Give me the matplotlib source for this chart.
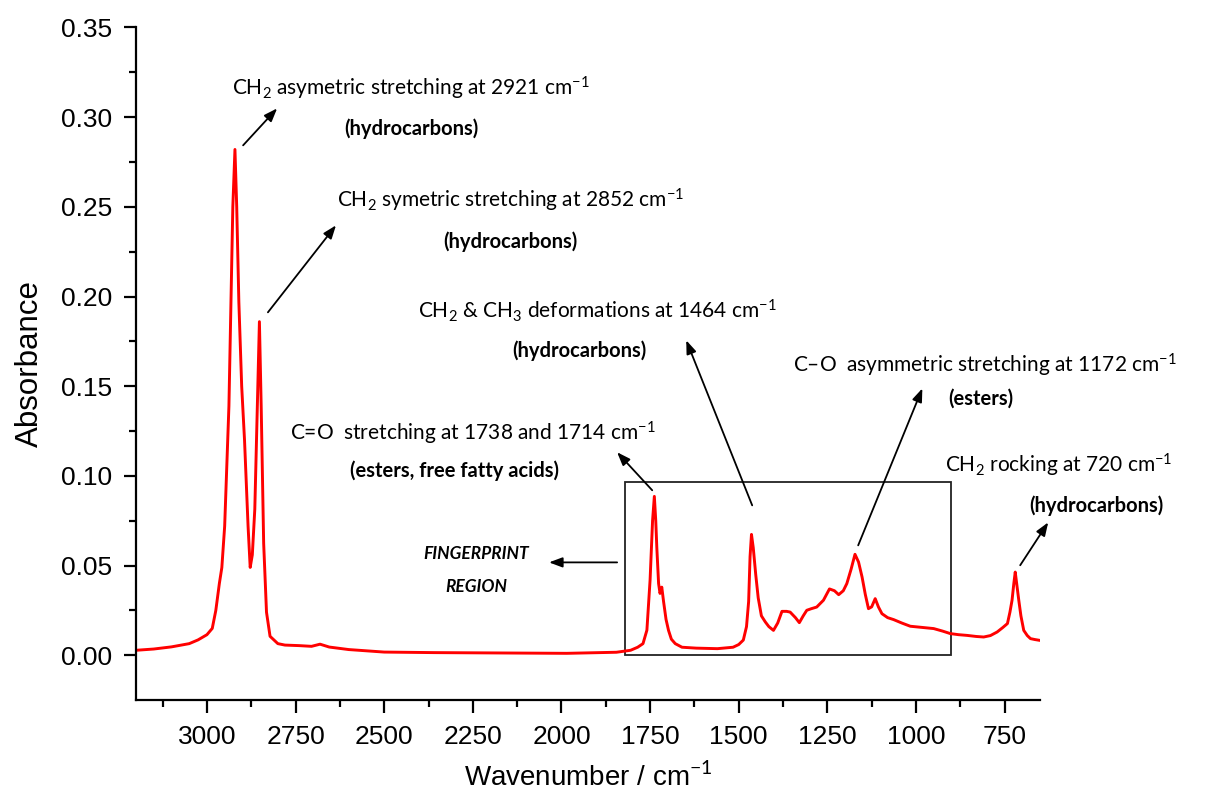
import matplotlib
matplotlib.use("Agg")
import matplotlib.pyplot as plt
from matplotlib import font_manager
from matplotlib.patches import Rectangle
from matplotlib.ticker import MultipleLocator

# spectrum (wavenumber in cm-1, absorbance)
wavenumber = [3200, 3150, 3100, 3050, 3025, 3000, 2985, 2975, 2965, 2958,
              2950, 2945, 2938, 2932, 2927, 2921, 2916, 2910, 2902, 2894,
              2884, 2878, 2872, 2865, 2858, 2852, 2847, 2840, 2832, 2822,
              2800, 2780, 2740, 2705, 2681, 2655, 2600, 2500, 2360, 2170,
              1985, 1845, 1805, 1785, 1770, 1759, 1750, 1743, 1738, 1734,
              1731, 1726, 1722, 1717, 1712, 1705, 1698, 1690, 1679, 1660,
              1620, 1560, 1516, 1500, 1487, 1478, 1472, 1468, 1464, 1459,
              1452, 1445, 1436, 1425, 1415, 1402, 1390, 1378, 1365, 1355,
              1340, 1329, 1318, 1308, 1295, 1280, 1261, 1244, 1230, 1218,
              1205, 1195, 1183, 1172, 1162, 1152, 1143, 1134, 1125, 1115,
              1106, 1096, 1080, 1063, 1040, 1016, 980, 950, 925, 903,
              880, 856, 830, 809, 790, 771, 755, 742, 735, 729,
              724, 720, 716, 710, 704, 696, 686, 677, 665, 653]
absorbance = [0.0028, 0.0035, 0.0047, 0.0065, 0.0086, 0.0115, 0.0150, 0.0250, 0.0400, 0.0489,
              0.0720, 0.1000, 0.1390, 0.2000, 0.2500, 0.2820, 0.2500, 0.1970, 0.1500, 0.1200,
              0.0720, 0.0490, 0.0560, 0.0815, 0.1390, 0.1860, 0.1390, 0.0624, 0.0240, 0.0106,
              0.0065, 0.0057, 0.0054, 0.0050, 0.0062, 0.0046, 0.0032, 0.0018, 0.0015, 0.0013,
              0.0011, 0.0017, 0.0028, 0.0045, 0.0065, 0.0140, 0.0420, 0.0750, 0.0886, 0.0750,
              0.0600, 0.0400, 0.0345, 0.0380, 0.0300, 0.0200, 0.0139, 0.0090, 0.0065, 0.0045,
              0.0040, 0.0037, 0.0045, 0.0060, 0.0085, 0.0160, 0.0300, 0.0550, 0.0674, 0.0600,
              0.0450, 0.0320, 0.0220, 0.0186, 0.0160, 0.0139, 0.0180, 0.0245, 0.0245, 0.0241,
              0.0210, 0.0182, 0.0220, 0.0251, 0.0260, 0.0269, 0.0307, 0.0370, 0.0360, 0.0338,
              0.0360, 0.0400, 0.0480, 0.0563, 0.0520, 0.0436, 0.0340, 0.0260, 0.0270, 0.0316,
              0.0270, 0.0232, 0.0210, 0.0199, 0.0180, 0.0162, 0.0155, 0.0149, 0.0135, 0.0121,
              0.0115, 0.0111, 0.0105, 0.0102, 0.0110, 0.0130, 0.0155, 0.0177, 0.0240, 0.0307,
              0.0400, 0.0464, 0.0400, 0.0307, 0.0220, 0.0139, 0.0110, 0.0093, 0.0088, 0.0084]

x_ticks = [3000, 2750, 2500, 2250, 2000, 1750, 1500, 1250, 1000, 750]
y_ticks = [0.00, 0.05, 0.10, 0.15, 0.20, 0.25, 0.30, 0.35]

# fingerprint box (cm-1 from, cm-1 to, absorbance top)
box_x = [1821, 900]
box_top = 0.0966

installed = {f.name for f in font_manager.fontManager.ttflist}
narrow = "Liberation Sans Narrow" if "Liberation Sans Narrow" in installed else "Liberation Sans"

plt.rcParams["font.family"] = ["Lato", "DejaVu Sans"]
plt.rcParams["mathtext.fontset"] = "custom"
plt.rcParams["mathtext.rm"] = "Lato"
plt.rcParams["mathtext.it"] = "Lato:italic"
plt.rcParams["mathtext.bf"] = "Lato:bold"

fig = plt.figure(figsize=(12.19, 7.92), dpi=100)
ax = fig.add_axes([0.1116, 0.1162, 0.7416, 0.8491])

ax.plot(wavenumber, absorbance, color="#ff0000", lw=2.1)

ax.set_xlim(3200, 650)
ax.set_ylim(-0.0249, 0.35)
ax.set_xticks(x_ticks)
ax.set_yticks(y_ticks)
ax.xaxis.set_minor_locator(MultipleLocator(125))
ax.yaxis.set_minor_locator(MultipleLocator(0.025))
ax.set_yticklabels([f"{v:.2f}" for v in y_ticks], fontfamily="Liberation Sans", fontsize=19)
ax.set_xticklabels([str(v) for v in x_ticks], fontfamily=narrow, fontsize=19)

for s in ["top", "right"]:
    ax.spines[s].set_visible(False)
for s in ["left", "bottom"]:
    ax.spines[s].set_linewidth(1.6)
ax.tick_params(which="major", direction="out", length=9, width=1.6)
ax.tick_params(axis="y", which="major", pad=8)
ax.tick_params(axis="x", which="major", pad=9)
ax.tick_params(which="minor", direction="out", length=5, width=1.6)

ax.set_ylabel("Absorbance", fontfamily="Liberation Sans", fontsize=22.5, labelpad=12)
ax.set_xlabel("Wavenumber / cm$^{-1}$", fontfamily=narrow, fontsize=20, labelpad=10)

ax.add_patch(Rectangle((box_x[0], 0), box_x[1] - box_x[0], box_top,
                       fill=False, edgecolor="#222222", lw=1.3))

arrow = dict(arrowstyle="-|>,head_length=0.8,head_width=0.3", color="black", lw=1.3,
             shrinkA=0, shrinkB=0)

ax.annotate("", xy=(2802, 0.3049), xytext=(2898, 0.2843), arrowprops=arrow)
ax.annotate("", xy=(2636, 0.2397), xytext=(2828, 0.1912), arrowprops=arrow)
ax.annotate("", xy=(1648, 0.1756), xytext=(1462, 0.0836), arrowprops=arrow)
ax.annotate("", xy=(982, 0.1488), xytext=(1163, 0.0613), arrowprops=arrow)
ax.annotate("", xy=(1843, 0.1132), xytext=(1744, 0.0920), arrowprops=arrow)
ax.annotate("", xy=(627, 0.0741), xytext=(706, 0.0502), arrowprops=arrow, annotation_clip=False)
ax.annotate("", xy=(2035, 0.0518), xytext=(1843, 0.0518), arrowprops=arrow)

fs = 15
fb = 14.5
ax.text(2930, 0.3161, r"CH$_2$ asymetric stretching at 2921 cm$^{-1}$", fontsize=fs, va="center")
ax.text(2424, 0.2938, "(hydrocarbons)", fontsize=fb, fontweight="bold", ha="center", va="center")
ax.text(2633, 0.2536, r"CH$_2$ symetric stretching at 2852 cm$^{-1}$", fontsize=fs, va="center")
ax.text(2145, 0.2308, "(hydrocarbons)", fontsize=fb, fontweight="bold", ha="center", va="center")
ax.text(2404, 0.1923, r"CH$_2$ & CH$_3$ deformations at 1464 cm$^{-1}$", fontsize=fs, va="center")
ax.text(1950, 0.1700, "(hydrocarbons)", fontsize=fb, fontweight="bold", ha="center", va="center")
ax.text(1346, 0.1616, r"C–O  asymmetric stretching at 1172 cm$^{-1}$", fontsize=fs, va="center")
ax.text(818, 0.1433, "(esters)", fontsize=fb, fontweight="bold", ha="center", va="center")
ax.text(2765, 0.1237, r"C=O  stretching at 1738 and 1714 cm$^{-1}$", fontsize=fs, va="center")
ax.text(2303, 0.1031, "(esters, free fatty acids)", fontsize=fb, fontweight="bold", ha="center", va="center")
ax.text(917, 0.1059, r"CH$_2$ rocking at 720 cm$^{-1}$", fontsize=fs, va="center", clip_on=False)
ax.text(491, 0.0836, "(hydrocarbons)", fontsize=fb, fontweight="bold", ha="center", va="center", clip_on=False)
ax.text(2240, 0.0471, "FINGERPRINT\nREGION", fontsize=12.5, fontweight="bold", fontstyle="italic",
        ha="center", va="center", linespacing=2.3)

fig.savefig("out.png", dpi=100)
